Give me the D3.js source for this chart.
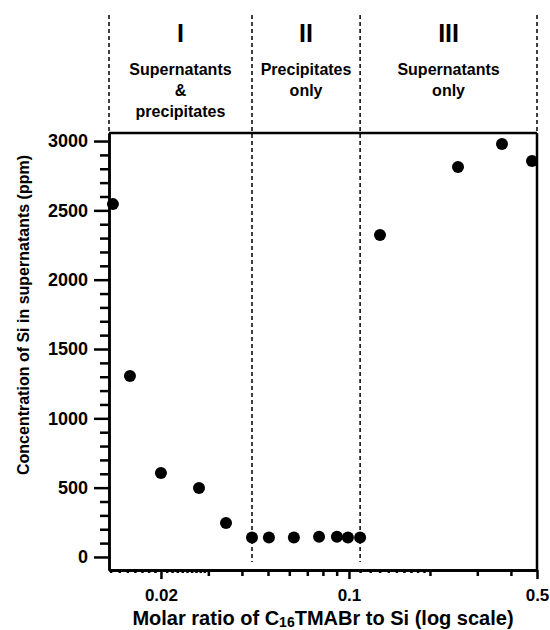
<!DOCTYPE html>
<html>
<head>
<meta charset="utf-8">
<script src="https://cdn.jsdelivr.net/npm/d3@7"></script>
<style>
  body { margin: 0; background: #fff; }
  text { font-family: "Liberation Sans", Arial, sans-serif; font-weight: bold; fill: #000; }
</style>
</head>
<body>
<svg id="chart" width="550" height="630"></svg>
<script>
// molar ratio C16TMABr : Si (log axis) and Si left in supernatant (ppm)
var ratio = [0.01326, 0.01534, 0.02, 0.0277, 0.0349, 0.0436, 0.0504, 0.0624, 0.0774, 0.0902, 0.0991, 0.11, 0.1304, 0.2543, 0.3705, 0.479];
var siPpm = [2545, 1305, 606, 498, 245, 140, 140, 140, 145, 145, 140, 140, 2322, 2812, 2978, 2856];

// region borders (ends of the axis + the two phase boundaries)
var regionEdges = [0.01282, 0.0436, 0.11, 0.5];
var regionNames = ["I", "II", "III"];
var regionNotes = [["Supernatants", "&", "precipitates"], ["Precipitates", "only"], ["Supernatants", "only"]];

var xLabelTicks = [0.02, 0.1, 0.5];
var xMidTicks = [0.03, 0.04, 0.05, 0.06, 0.07, 0.08, 0.09, 0.2, 0.3, 0.4];
var xSmallTicks = [0.013, 0.014, 0.015, 0.016, 0.017, 0.018, 0.019,
                   0.021, 0.022, 0.023, 0.024, 0.025, 0.026, 0.027, 0.028, 0.029,
                   0.11, 0.12, 0.13, 0.14, 0.15, 0.16, 0.17, 0.18, 0.19];
var yMajorTicks = [0, 500, 1000, 1500, 2000, 2500, 3000];
var yMinorTicks = [100, 200, 300, 400, 600, 700, 800, 900, 1100, 1200, 1300, 1400,
                   1600, 1700, 1800, 1900, 2100, 2200, 2300, 2400, 2600, 2700, 2800, 2900];

var svg = d3.select("#chart");

var x = d3.scaleLog().domain([0.01282, 0.5]).range([109, 537]);
var y = d3.scaleLinear().domain([-94, 3058]).range([570, 133]);

// dashed region borders
var edges = svg.append("g");
regionEdges.forEach(function(v, i){
    var inner = (i > 0 && i < regionEdges.length - 1);
    edges.append("line")
        .attr("x1", x(v)).attr("x2", x(v))
        .attr("y1", 15).attr("y2", inner ? 562 : 133)
        .attr("stroke", "#000")
        .attr("stroke-width", 1.5)
        .attr("stroke-dasharray", "4,3");
});

// region headings
for (var i = 0; i < regionNames.length; i++){
    var cx = (x(regionEdges[i]) + x(regionEdges[i+1])) / 2;
    svg.append("text")
        .attr("x", cx).attr("y", 42)
        .attr("text-anchor", "middle")
        .style("font-size", "25px")
        .text(regionNames[i]);
    regionNotes[i].forEach(function(line, j){
        svg.append("text")
            .attr("x", cx).attr("y", 75 + j * 21)
            .attr("text-anchor", "middle")
            .style("font-size", "16px")
            .text(line);
    });
}

// frame (top + right)
svg.append("line")
    .attr("x1", x.range()[0]).attr("x2", x.range()[1])
    .attr("y1", y.range()[1]).attr("y2", y.range()[1])
    .attr("stroke", "#000").attr("stroke-width", 2.5);
svg.append("line")
    .attr("x1", x.range()[1]).attr("x2", x.range()[1])
    .attr("y1", y.range()[1]).attr("y2", y.range()[0])
    .attr("stroke", "#000").attr("stroke-width", 2.5);

// y axis
var yAxisG = svg.append("g").attr("transform", "translate(109,0)");
yAxisG.append("g")
    .call(d3.axisLeft(y).tickValues(yMinorTicks).tickSizeInner(9).tickSizeOuter(0).tickFormat(""));
yAxisG.append("g")
    .call(d3.axisLeft(y).tickValues(yMajorTicks).tickSizeInner(15).tickSizeOuter(0).tickPadding(6).tickFormat(d3.format("d")));

// x axis
var xAxisG = svg.append("g").attr("transform", "translate(0,570)");
xAxisG.append("g")
    .call(d3.axisBottom(x).tickValues(xSmallTicks).tickSizeInner(3).tickSizeOuter(0).tickFormat(""));
xAxisG.append("g")
    .call(d3.axisBottom(x).tickValues(xMidTicks).tickSizeInner(6).tickSizeOuter(0).tickFormat(""));
var xLab = xAxisG.append("g")
    .call(d3.axisBottom(x).tickValues(xLabelTicks).tickSizeInner(9).tickSizeOuter(0).tickPadding(10)
        .tickFormat(function(d){ return String(d); }));

svg.selectAll(".domain").attr("stroke-width", 2.5);
svg.selectAll(".tick line").attr("stroke-width", 2.5);
svg.selectAll(".tick text").style("font-size", "18px").style("font-family", "'Liberation Sans', Arial, sans-serif").style("font-weight", "bold");
xLab.selectAll(".tick text").style("font-size", "17px");

// points
svg.append("g").selectAll("circle")
    .data(ratio)
    .enter().append("circle")
    .attr("cx", function(d){ return x(d); })
    .attr("cy", function(d, i){ return y(siPpm[i]); })
    .attr("r", 6)
    .attr("fill", "#000");

// axis titles
svg.append("text")
    .attr("transform", "translate(29,315) rotate(-90)")
    .attr("text-anchor", "middle")
    .style("font-size", "16px")
    .text("Concentration of Si in supernatants (ppm)");

var xt = svg.append("text")
    .attr("x", 323).attr("y", 625)
    .attr("text-anchor", "middle")
    .style("font-size", "20px");
xt.append("tspan").text("Molar ratio of C");
xt.append("tspan").attr("dy", 2).style("font-size", "14px").text("16");
xt.append("tspan").attr("dy", -2).text("TMABr to Si (log scale)");
</script>
</body>
</html>
